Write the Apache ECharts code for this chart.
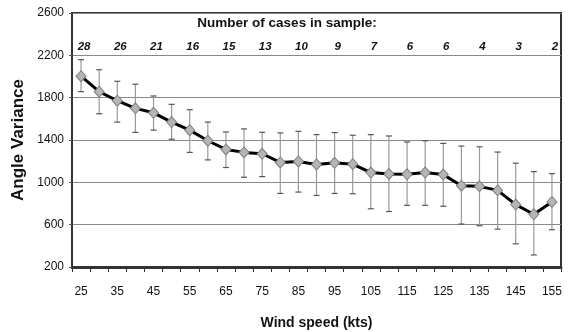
<!DOCTYPE html>
<html>
<head>
<meta charset="utf-8">
<script src="https://cdn.jsdelivr.net/npm/echarts@6/dist/echarts.min.js"></script>
<style>
  html, body { margin: 0; padding: 0; background: #fff; }
  #chart { width: 573px; height: 332px; }
</style>
</head>
<body>
<div id="chart"></div>
<script>
// wind speed categories (kts)
var windSpeed = [25, 30, 35, 40, 45, 50, 55, 60, 65, 70, 75, 80, 85, 90, 95, 100, 105, 110, 115, 120, 125, 130, 135, 140, 145, 150, 155];
// mean angle variance
var meanVar = [2003, 1857, 1771, 1699, 1657, 1569, 1493, 1393, 1311, 1283, 1270, 1188, 1197, 1169, 1184, 1172, 1092, 1079, 1076, 1092, 1073, 968, 962, 924, 790, 698, 815];
// error bar ends
var lowVar = [1857, 1648, 1569, 1472, 1493, 1407, 1283, 1212, 1140, 1048, 1054, 895, 908, 876, 895, 892, 750, 724, 783, 783, 774, 606, 590, 558, 419, 314, 552];
var highVar = [2159, 2064, 1955, 1927, 1816, 1737, 1686, 1569, 1476, 1505, 1473, 1467, 1482, 1451, 1470, 1445, 1451, 1438, 1381, 1393, 1368, 1343, 1336, 1286, 1181, 1101, 1082];
// number of cases, one per labelled speed (25, 35, ... 155)
var caseCounts = [28, 26, 21, 16, 15, 13, 10, 9, 7, 6, 6, 4, 3, 2];

var sans = "'Liberation Sans', Arial, sans-serif";

var chart = echarts.init(document.getElementById('chart'));

var errData = windSpeed.map(function (w, i) {
  return [i, lowVar[i], highVar[i]];
});

chart.setOption({
  animation: false,
  grid: {
    left: 72, right: 12, top: 13, bottom: 65,
    outerBoundsMode: 'none',
    containLabel: false,
    show: true,
    borderColor: '#333',
    borderWidth: 2
  },
  graphic: [{
    type: 'text',
    x: 287, y: 23,
    style: {
      text: 'Number of cases in sample:',
      font: 'bold 13.5px ' + sans,
      fill: '#111',
      align: 'center',
      verticalAlign: 'middle'
    }
  }],
  xAxis: [{
    type: 'category',
    data: windSpeed,
    boundaryGap: true,
    name: 'Wind speed (kts)',
    nameLocation: 'middle',
    nameGap: 49,
    nameTextStyle: { fontFamily: sans, fontWeight: 'bold', fontSize: 14, color: '#111' },
    axisLine: { lineStyle: { color: '#333', width: 3 } },
    axisTick: { show: true, interval: 0, length: 5, lineStyle: { color: '#333', width: 1 } },
    axisLabel: { interval: 1, margin: 19, fontFamily: sans, fontSize: 12, color: '#111' },
    splitLine: { show: false }
  }, {
    type: 'category',
    position: 'top',
    data: windSpeed,
    boundaryGap: true,
    axisLine: { show: false },
    axisTick: { show: false },
    axisLabel: {
      inside: true,
      interval: 1,
      margin: 28,
      padding: [0, 0, 0, 6],
      fontFamily: sans,
      fontWeight: 'bold',
      fontStyle: 'italic',
      fontSize: 11.5,
      color: '#111',
      formatter: function (v, idx) { return String(caseCounts[idx / 2]); }
    }
  }],
  yAxis: {
    type: 'value',
    min: 200, max: 2600, interval: 400,
    name: 'Angle Variance',
    nameLocation: 'middle',
    nameGap: 41,
    nameTextStyle: { fontFamily: sans, fontWeight: 'bold', fontSize: 17, color: '#111' },
    axisLine: { show: true, lineStyle: { color: '#333', width: 2 } },
    axisTick: { show: true, length: 3, lineStyle: { color: '#555' } },
    axisLabel: {
      margin: 8, fontFamily: sans, fontSize: 12, color: '#111',
      formatter: function (v) { return String(v); }
    },
    splitLine: { lineStyle: { color: '#888', width: 1 } }
  },
  series: [{
    type: 'custom',
    data: errData,
    encode: { x: 0, y: [1, 2] },
    z: 2,
    renderItem: function (params, api) {
      var x = api.value(0);
      var top = api.coord([x, api.value(2)]);
      var bot = api.coord([x, api.value(1)]);
      var cap = 3;
      return {
        type: 'group',
        children: [{
          type: 'line',
          shape: { x1: top[0], y1: top[1], x2: bot[0], y2: bot[1] },
          style: { stroke: '#999', lineWidth: 1.2 }
        }, {
          type: 'line',
          shape: { x1: top[0] - cap, y1: top[1], x2: top[0] + cap, y2: top[1] },
          style: { stroke: '#555', lineWidth: 1.2 }
        }, {
          type: 'line',
          shape: { x1: bot[0] - cap, y1: bot[1], x2: bot[0] + cap, y2: bot[1] },
          style: { stroke: '#555', lineWidth: 1.2 }
        }]
      };
    }
  }, {
    type: 'line',
    data: meanVar,
    z: 3,
    symbol: 'diamond',
    symbolSize: [10, 11],
    showAllSymbol: true,
    lineStyle: { color: '#000', width: 3 },
    itemStyle: { color: '#b5b5b5', borderColor: '#808080', borderWidth: 1 }
  }]
});
</script>
</body>
</html>
